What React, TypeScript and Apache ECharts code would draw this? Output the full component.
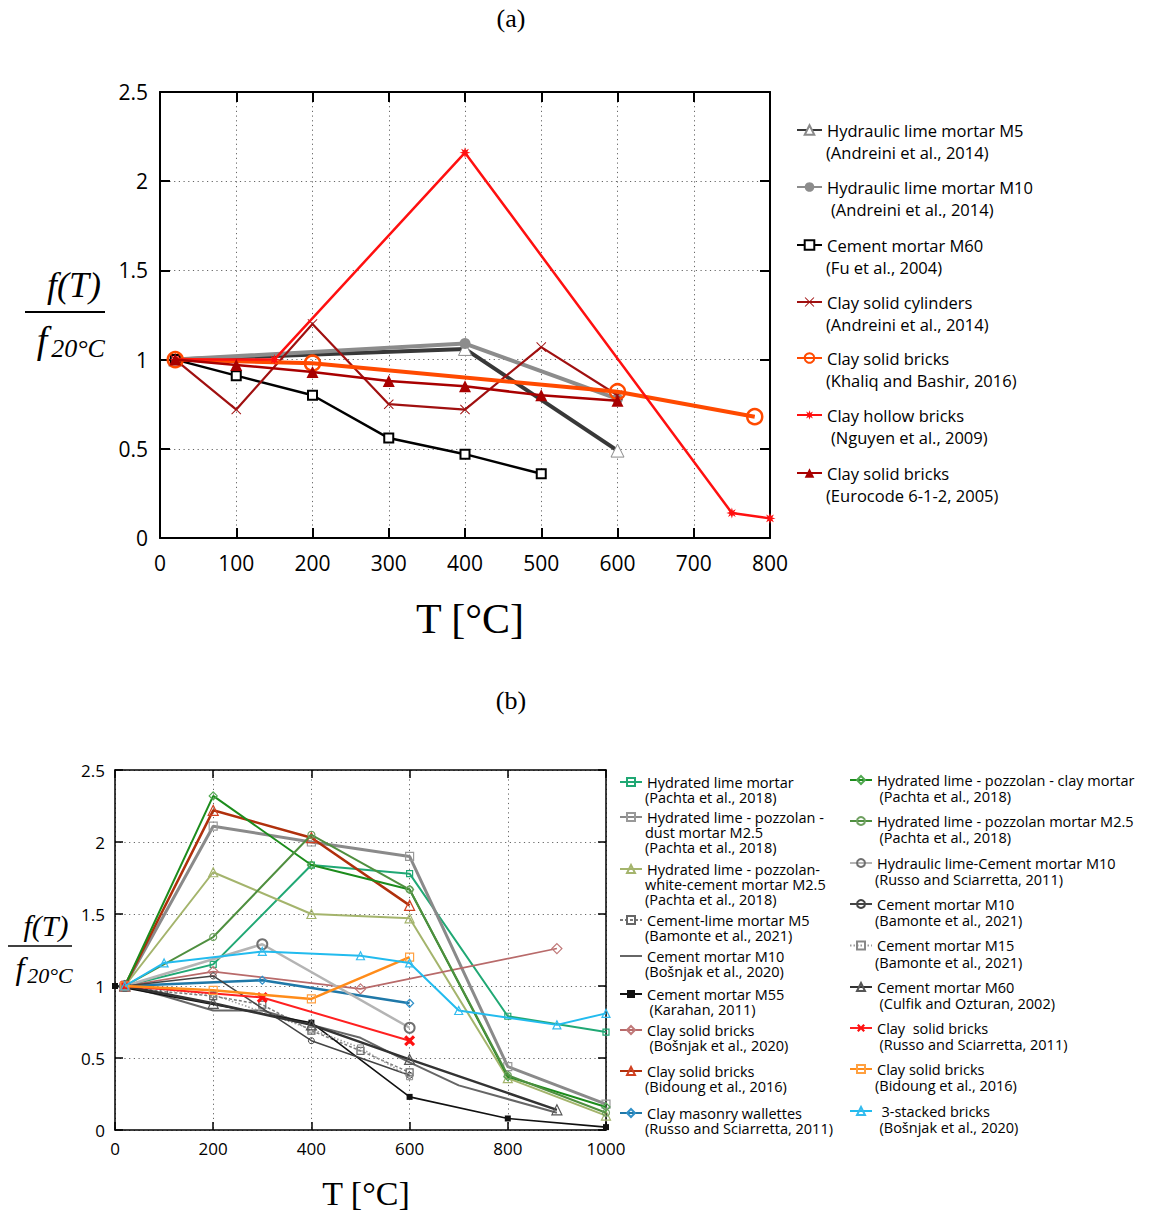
import React, { useEffect, useRef } from "react";
import * as echarts from "echarts";

type P = [number, number][];

// ---------- Panel (a) data: [T (°C), f(T)/f20] ----------
const aHydraulicM5: P = [[20, 1], [400, 1.06], [600, 0.49]];
const aHydraulicM10: P = [[20, 1], [400, 1.09], [600, 0.78]];
const aCementM60Fu: P = [[20, 1], [100, 0.91], [200, 0.8], [300, 0.56], [400, 0.47], [500, 0.36]];
const aClayCylinders: P = [[20, 1], [100, 0.72], [200, 1.2], [300, 0.75], [400, 0.72], [500, 1.07], [600, 0.8]];
const aClayKhaliq: P = [[20, 1], [200, 0.98], [600, 0.82], [780, 0.68]];
const aClayHollow: P = [[20, 1], [150, 1], [400, 2.16], [750, 0.14], [800, 0.11]];
const aEurocode: P = [[20, 1], [100, 0.97], [200, 0.93], [300, 0.88], [400, 0.85], [500, 0.8], [600, 0.77]];

// ---------- Panel (b) data ----------
const bHydLime: P = [[20, 1], [200, 1.15], [400, 1.84], [600, 1.78], [800, 0.79], [1000, 0.68]];
const bDustM25: P = [[20, 1], [200, 2.11], [400, 2.0], [600, 1.9], [800, 0.44], [1000, 0.18]];
const bWhiteCem: P = [[20, 1], [200, 1.79], [400, 1.5], [600, 1.47], [800, 0.36], [1000, 0.1]];
const bCemLimeM5: P = [[20, 1], [100, 0.96], [200, 0.93], [300, 0.87], [400, 0.69], [500, 0.55], [600, 0.4]];
const bCemM10Bos: P = [[20, 1], [100, 0.93], [200, 0.83], [300, 0.83], [400, 0.73], [500, 0.64], [600, 0.47], [700, 0.31], [900, 0.12]];
const bCemM55: P = [[0, 1], [400, 0.745], [600, 0.23], [800, 0.08], [1000, 0.02]];
const bClayBos: P = [[20, 1], [200, 1.1], [500, 0.98], [900, 1.26]];
const bClayBidDark: P = [[20, 1], [200, 2.22], [400, 2.03], [600, 1.56]];
const bWallettes: P = [[20, 1], [300, 1.04], [600, 0.88]];
const bClayMortar: P = [[20, 1], [200, 2.32], [400, 1.84], [600, 1.67], [800, 0.37], [1000, 0.16]];
const bPozzM25: P = [[20, 1], [200, 1.34], [400, 2.05], [600, 1.67], [800, 0.38], [1000, 0.12]];
const bHydCemM10: P = [[20, 1], [300, 1.29], [600, 0.71]];
const bCemM10Bam: P = [[20, 1], [200, 1.07], [400, 0.62], [600, 0.38]];
const bCemM15Bam: P = [[20, 1], [200, 0.94], [400, 0.7], [500, 0.57], [600, 0.37]];
const bCemM60Cul: P = [[20, 1], [200, 0.88], [400, 0.73], [600, 0.49], [900, 0.14]];
const bClayRusso: P = [[20, 1], [300, 0.92], [600, 0.62]];
const bClayBidOr: P = [[20, 1], [200, 0.97], [400, 0.91], [600, 1.2]];
const bStacked: P = [[20, 1], [100, 1.16], [300, 1.24], [500, 1.21], [600, 1.16], [700, 0.83], [900, 0.73], [1000, 0.81]];

// ---------- Legend texts ----------
const aLegendText: string[][] = [
  ["Hydraulic lime mortar M5", "(Andreini et al., 2014)"],
  ["Hydraulic lime mortar M10", "(Andreini et al., 2014)"],
  ["Cement mortar M60", "(Fu et al., 2004)"],
  ["Clay solid cylinders", "(Andreini et al., 2014)"],
  ["Clay solid bricks", "(Khaliq and Bashir, 2016)"],
  ["Clay hollow bricks", "(Nguyen et al., 2009)"],
  ["Clay solid bricks", "(Eurocode 6-1-2, 2005)"],
];
const bLegendLeftText: string[][] = [
  ["Hydrated lime mortar", "(Pachta et al., 2018)"],
  ["Hydrated lime - pozzolan -", "dust mortar M2.5", "(Pachta et al., 2018)"],
  ["Hydrated lime - pozzolan-", "white-cement mortar M2.5", "(Pachta et al., 2018)"],
  ["Cement-lime mortar M5", "(Bamonte et al., 2021)"],
  ["Cement mortar M10", "(Bošnjak et al., 2020)"],
  ["Cement mortar M55", "(Karahan, 2011)"],
  ["Clay solid bricks", "(Bošnjak et al., 2020)"],
  ["Clay solid bricks", "(Bidoung et al., 2016)"],
  ["Clay masonry wallettes", "(Russo and Sciarretta, 2011)"],
];
const bLegendRightText: string[][] = [
  ["Hydrated lime - pozzolan - clay mortar", "(Pachta et al., 2018)"],
  ["Hydrated lime - pozzolan mortar M2.5", "(Pachta et al., 2018)"],
  ["Hydraulic lime-Cement mortar M10", "(Russo and Sciarretta, 2011)"],
  ["Cement mortar M10", "(Bamonte et al., 2021)"],
  ["Cement mortar M15", "(Bamonte et al., 2021)"],
  ["Cement mortar M60", "(Culfik and Ozturan, 2002)"],
  ["Clay  solid bricks", "(Russo and Sciarretta, 2011)"],
  ["Clay solid bricks", "(Bidoung et al., 2016)"],
  ["3-stacked bricks", "(Bošnjak et al., 2020)"],
];

const yNameTop = "f(T)";

// ---------- styling ----------
const SERIF = "'Liberation Serif', 'Times New Roman', serif";
const SANS = "'Open Sans', 'Noto Sans', sans-serif";
const TRANSP = "rgba(255,255,255,0)";

const X_THIN = "path://M0,0.7L0.7,0L5,4.3L9.3,0L10,0.7L5.7,5L10,9.3L9.3,10L5,5.7L0.7,10L0,9.3L4.3,5Z";
const X_THICK = "path://M0,2L2,0L5,3L8,0L10,2L7,5L10,8L8,10L5,7L2,10L0,8L3,5Z";
const STAR = (() => {
  let d = "";
  for (let i = 0; i < 16; i++) {
    const r = i % 2 === 0 ? 5 : 2.3;
    const a = (Math.PI * i) / 8 - Math.PI / 2;
    d += (i === 0 ? "M" : "L") + (5 + r * Math.cos(a)).toFixed(2) + "," + (5 + r * Math.sin(a)).toFixed(2);
  }
  return "path://" + d + "Z";
})();

interface Spec {
  id: string;
  data: P;
  color: string;
  width: number;
  symbol: string;
  size: number;
  fill?: string;
  border?: string;
  bw?: number;
  dash?: any;
}

const aSpecs: Spec[] = [
  { id: "a1", data: aHydraulicM5, color: "#383838", width: 4, symbol: "triangle", size: 13, fill: "#ffffff", border: "#8a8a8a", bw: 1 },
  { id: "a2", data: aHydraulicM10, color: "#8c8c8c", width: 4, symbol: "circle", size: 11, fill: "#8c8c8c" },
  { id: "a3", data: aCementM60Fu, color: "#000000", width: 2.5, symbol: "rect", size: 9, fill: "#ffffff", border: "#000000", bw: 2 },
  { id: "a4", data: aClayCylinders, color: "#a01010", width: 2.2, symbol: X_THIN, size: 10, fill: "#a01010" },
  { id: "a5", data: aClayKhaliq, color: "#ff4a00", width: 4, symbol: "circle", size: 15, fill: TRANSP, border: "#ff4a00", bw: 2.5 },
  { id: "a6", data: aClayHollow, color: "#ff1010", width: 2.5, symbol: STAR, size: 11, fill: "#ff1010" },
  { id: "a7", data: aEurocode, color: "#a80000", width: 2.5, symbol: "triangle", size: 12, fill: "#a80000" },
];

const bLeftSpecs: Spec[] = [
  { id: "bL1", data: bHydLime, color: "#20a874", width: 2, symbol: "rect", size: 6, fill: TRANSP, border: "#20a874", bw: 1.2 },
  { id: "bL2", data: bDustM25, color: "#8a8a8a", width: 3, symbol: "rect", size: 8, fill: TRANSP, border: "#999999", bw: 1.2 },
  { id: "bL3", data: bWhiteCem, color: "#a4b46c", width: 2, symbol: "triangle", size: 9, fill: TRANSP, border: "#a4b46c", bw: 1.2 },
  { id: "bL4", data: bCemLimeM5, color: "#7a7a7a", width: 1.5, symbol: "rect", size: 7, fill: TRANSP, border: "#666666", bw: 1.2, dash: [3, 2] },
  { id: "bL5", data: bCemM10Bos, color: "#666666", width: 2, symbol: "none", size: 0 },
  { id: "bL6", data: bCemM55, color: "#111111", width: 1.6, symbol: "rect", size: 6, fill: "#111111" },
  { id: "bL7", data: bClayBos, color: "#b86a6a", width: 1.6, symbol: "diamond", size: 10, fill: TRANSP, border: "#c07878", bw: 1.2 },
  { id: "bL8", data: bClayBidDark, color: "#b0300c", width: 2.5, symbol: "triangle", size: 10, fill: TRANSP, border: "#d04020", bw: 1.2 },
  { id: "bL9", data: bWallettes, color: "#1f78a8", width: 2.5, symbol: "diamond", size: 8, fill: TRANSP, border: "#3090c8", bw: 1.2 },
];
const bRightSpecs: Spec[] = [
  { id: "bR1", data: bClayMortar, color: "#1c8c1c", width: 2, symbol: "diamond", size: 8, fill: TRANSP, border: "#50a850", bw: 1.2 },
  { id: "bR2", data: bPozzM25, color: "#4f8f3f", width: 2, symbol: "circle", size: 7, fill: TRANSP, border: "#6fa060", bw: 1.2 },
  { id: "bR3", data: bHydCemM10, color: "#b4b4b4", width: 2.5, symbol: "circle", size: 10, fill: TRANSP, border: "#707070", bw: 2 },
  { id: "bR4", data: bCemM10Bam, color: "#444444", width: 1.5, symbol: "circle", size: 6, fill: TRANSP, border: "#444444", bw: 1 },
  { id: "bR5", data: bCemM15Bam, color: "#9a9a9a", width: 1.5, symbol: "rect", size: 6, fill: TRANSP, border: "#888888", bw: 1, dash: [1.5, 2] },
  { id: "bR6", data: bCemM60Cul, color: "#333333", width: 2.5, symbol: "triangle", size: 10, fill: TRANSP, border: "#555555", bw: 1.2 },
  { id: "bR7", data: bClayRusso, color: "#ff2020", width: 2, symbol: X_THICK, size: 11, fill: "#ff1010" },
  { id: "bR8", data: bClayBidOr, color: "#ff8c1a", width: 2.5, symbol: "rect", size: 8, fill: TRANSP, border: "#ffa040", bw: 1.2 },
  { id: "bR9", data: bStacked, color: "#22bbee", width: 2, symbol: "triangle", size: 8, fill: TRANSP, border: "#33bbee", bw: 1.2 },
];

// ---------- layout ----------
const A_LEG = { left: 796, textX: 826, y1: [130, 187, 245, 302, 358, 415, 473], dy: 22, indent: [0, 5, 0, 0, 0, 5, 0] };
const B_LEG_L = {
  left: 619, textX: 645,
  ys: [[782, 797], [817, 832, 847], [869, 884, 899], [920, 935], [956, 971], [994, 1009], [1030, 1045], [1071, 1086], [1113, 1128]],
  indent: [[0, 0], [0, 0, 0], [0, 0, 0], [0, 0], [0, 0], [0, 4.5], [0, 4.5], [0, 0], [0, 0]],
};
const B_LEG_R = {
  left: 849, textX: 875,
  ys: [[780, 796.5], [821, 837.5], [863, 879.5], [904, 920.5], [945.5, 962], [987, 1003.5], [1028, 1044.5], [1069, 1085.5], [1111, 1127.5]],
  indent: [[0, 4.5], [0, 4.5], [0, 0], [0, 0], [0, 0], [0, 4.5], [0, 4.5], [0, 0], [4.5, 4.5]],
};

function makeSeries(s: Spec, xi: number, z: number) {
  return {
    type: "line",
    name: s.id,
    xAxisIndex: xi,
    yAxisIndex: xi,
    data: s.data,
    symbol: s.symbol,
    symbolSize: s.size,
    showSymbol: s.symbol !== "none",
    z,
    lineStyle: { color: s.color, width: s.width, type: s.dash || "solid" },
    itemStyle: {
      color: s.fill || s.color,
      borderColor: s.border || s.fill || s.color,
      borderWidth: s.bw || 0,
    },
    emphasis: { disabled: true },
    animation: false,
  };
}

function axisSet(gi: number, min: number, max: number, interval: number, isX: boolean, fs: number, lw: number, tick: number, margin: number) {
  const common = {
    gridIndex: gi,
    type: "value",
    min,
    max,
    interval,
    axisLine: { show: true, onZero: false, lineStyle: { color: "#000", width: lw } },
    axisTick: { show: true, inside: true, length: tick, lineStyle: { color: "#000", width: lw } },
  };
  const main = {
    ...common,
    position: isX ? "bottom" : "left",
    axisLabel: {
      show: true,
      fontFamily: SANS,
      fontSize: fs,
      color: "#000",
      margin,
      formatter: (v: number) => String(v),
    },
    splitLine: { show: true, lineStyle: { color: "#666", width: 1, type: [1.2, 3.5] } },
  };
  const opp = {
    ...common,
    position: isX ? "top" : "right",
    axisLabel: { show: false },
    splitLine: { show: false },
  };
  return [main, opp];
}

function txt(text: string, x: number, y: number, size: number, family: string, extra: any = {}) {
  return {
    type: "text",
    x,
    y,
    silent: true,
    style: {
      text,
      fontSize: size,
      fontFamily: family,
      fill: "#000",
      align: extra.align || "center",
      verticalAlign: "middle",
      fontStyle: extra.italic ? "italic" : "normal",
    },
  };
}

export default function App() {
  const ref = useRef<HTMLDivElement>(null);

  useEffect(() => {
    if (!ref.current) return;
    const chart = echarts.init(ref.current, undefined, { renderer: "svg" });

    const series: any[] = [];
    aSpecs.forEach((s, i) => series.push(makeSeries(s, 0, 2 + i)));
    [...bLeftSpecs, ...bRightSpecs].forEach((s, i) => series.push(makeSeries(s, 2, 2 + i)));

    const legends: any[] = [];
    const graphics: any[] = [];
    const A_FS = 16.5;
    const B_FS = 14.5;

    // Panel (a) legend
    aSpecs.forEach((s, i) => {
      const y = A_LEG.y1[i];
      legends.push({
        data: [s.id],
        left: A_LEG.left,
        top: y - 9,
        padding: 0,
        itemWidth: 25,
        itemHeight: 12,
        selectedMode: false,
        formatter: () => aLegendText[i][0],
        textStyle: { fontFamily: SANS, fontSize: A_FS, color: "#000", lineHeight: 18 },
      });
      graphics.push(txt(aLegendText[i][1], A_LEG.textX + A_LEG.indent[i], y + A_LEG.dy, A_FS, SANS, { align: "left" }));
    });

    const addB = (specs: Spec[], texts: string[][], L: any) => {
      specs.forEach((s, i) => {
        const ys = L.ys[i];
        const ind = L.indent[i];
        const noMark = s.symbol === "none";
        legends.push({
          data: [s.id],
          left: L.left,
          top: ys[0] - 7.5,
          padding: 0,
          itemWidth: 22,
          itemHeight: noMark ? 2 : 10,
          selectedMode: false,
          formatter: () => texts[i][0],
          textStyle: { fontFamily: SANS, fontSize: B_FS, color: "#000", lineHeight: 15, padding: [0, 0, 0, ind[0]] },
        });
        for (let k = 1; k < texts[i].length; k++) {
          graphics.push(txt(texts[i][k], L.textX + ind[k], ys[k], B_FS, SANS, { align: "left" }));
        }
      });
    };
    addB(bLeftSpecs, bLegendLeftText, B_LEG_L);
    addB(bRightSpecs, bLegendRightText, B_LEG_R);

    // titles and axis names
    graphics.push(txt("(a)", 511, 18, 26, SERIF));
    graphics.push(txt("(b)", 511, 700, 26, SERIF));
    graphics.push(txt("T [°C]", 470, 619, 42, SERIF));
    graphics.push(txt("T [°C]", 366, 1193, 34, SERIF));
    // fraction (a)
    graphics.push(txt(yNameTop, 74, 285, 36, SERIF, { italic: true }));
    graphics.push({ type: "line", silent: true, shape: { x1: 25, y1: 312, x2: 105, y2: 312 }, style: { stroke: "#000", lineWidth: 2 } });
    graphics.push(txt("f", 42, 340, 38, SERIF, { italic: true }));
    graphics.push(txt("20°C", 78, 348, 26, SERIF, { italic: true }));
    // fraction (b)
    graphics.push(txt(yNameTop, 46, 925, 30, SERIF, { italic: true }));
    graphics.push({ type: "line", silent: true, shape: { x1: 8, y1: 946, x2: 72, y2: 946 }, style: { stroke: "#000", lineWidth: 1.5 } });
    graphics.push(txt("f", 20, 968, 32, SERIF, { italic: true }));
    graphics.push(txt("20°C", 50, 975, 22, SERIF, { italic: true }));

    const [ax0, ax1] = axisSet(0, 0, 800, 100, true, 21, 2, 10, 14);
    const [bx0, bx1] = axisSet(1, 0, 1000, 200, true, 17, 1.5, 8, 10);
    const [ay0, ay1] = axisSet(0, 0, 2.5, 0.5, false, 21, 2, 10, 12);
    const [by0, by1] = axisSet(1, 0, 2.5, 0.5, false, 17, 1.5, 8, 10);

    chart.setOption({
      animation: false,
      backgroundColor: "#ffffff",
      grid: [
        { left: 160, top: 92, width: 610, height: 446, containLabel: false },
        { left: 115, top: 770, width: 491, height: 360, containLabel: false },
      ],
      xAxis: [ax0, ax1, bx0, bx1],
      yAxis: [ay0, ay1, by0, by1],
      legend: legends,
      graphic: graphics,
      series,
    });

    return () => chart.dispose();
  }, []);

  return (
    <div
      ref={ref}
      style={{ position: "fixed", left: 0, top: 0, width: 1165, height: 1213, background: "#fff" }}
    />
  );
}
